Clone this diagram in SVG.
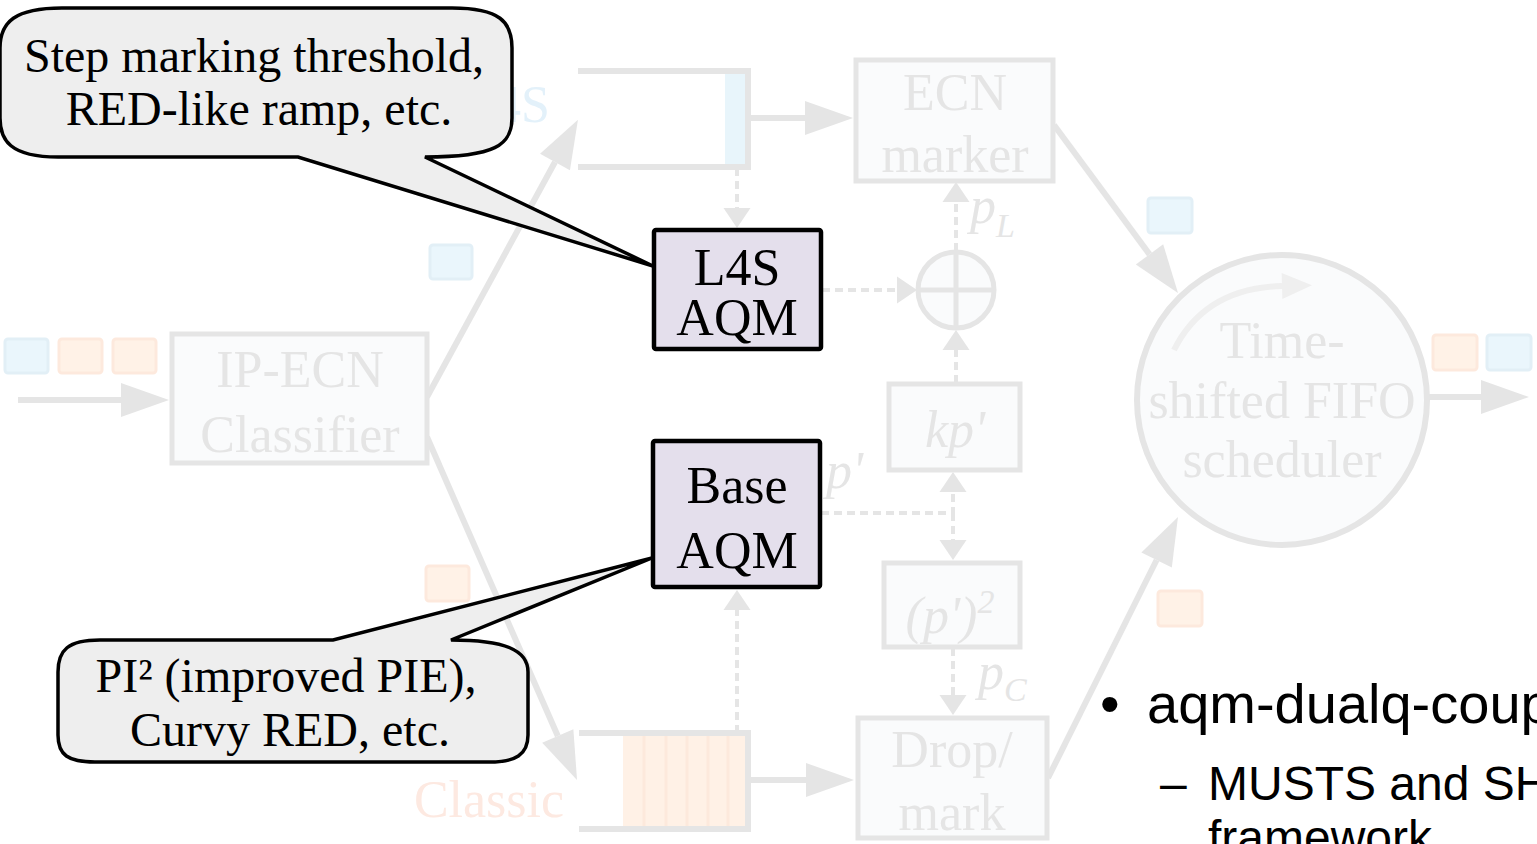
<svg xmlns="http://www.w3.org/2000/svg" width="1537" height="844" viewBox="0 0 1537 844">
<style>
.gbox{fill:#fafbfc;stroke:#e5e5e5;stroke-width:5}
.gt{fill:#e5e5e5;font-family:"Liberation Serif",serif;font-size:52px;text-anchor:middle}
.gi{fill:#e5e5e5;font-family:"Liberation Serif",serif;font-size:52px;font-style:italic}
.aqm{fill:#e4dfec;stroke:#000;stroke-width:4.5}
.bt{fill:#000;font-family:"Liberation Serif",serif;font-size:52px;text-anchor:middle}
.ct{fill:#000;font-family:"Liberation Serif",serif;font-size:48px;text-anchor:middle}
.callout{fill:#eeeeee;stroke:#000;stroke-width:3.5;stroke-linejoin:miter}
.sol{fill:none;stroke:#e5e5e5;stroke-width:6;marker-end:url(#ah)}
.dash{fill:none;stroke:#e5e5e5;stroke-width:4;stroke-dasharray:8 5;marker-end:url(#dh)}
.pb{fill:#eaf6fc;stroke:#e2eff6;stroke-width:3}
.po{fill:#fff2e7;stroke:#fde9dd;stroke-width:3}
.q{fill:none;stroke:#e5e5e5;stroke-width:6}
.st{fill:#000;font-family:"Liberation Sans",sans-serif}
</style>
<defs>
<marker id="ah" markerUnits="userSpaceOnUse" viewBox="0 -17 48 34" refX="0" refY="0" markerWidth="48" markerHeight="34" orient="auto" overflow="visible">
<path d="M0,-17 L48,0 L0,17 Z" fill="#e5e5e5"/>
</marker>
<marker id="dh" markerUnits="userSpaceOnUse" viewBox="0 -14 20 28" refX="0" refY="0" markerWidth="20" markerHeight="28" orient="auto" overflow="visible">
<path d="M0,-13.5 L20,0 L0,13.5 Z" fill="#e5e5e5"/>
</marker>
<marker id="ch" markerUnits="userSpaceOnUse" viewBox="0 -13 30 26" refX="0" refY="0" markerWidth="30" markerHeight="26" orient="auto" overflow="visible">
<path d="M0,-13 L30,0 L0,13 Z" fill="#efefef"/>
</marker>
</defs>

<!-- packets -->
<g id="packets">
<rect class="pb" x="5" y="339" width="43" height="34" rx="3"/>
<rect class="po" x="59" y="339" width="43" height="34" rx="3"/>
<rect class="po" x="113" y="339" width="43" height="34" rx="3"/>
<rect class="pb" x="430" y="245" width="42" height="34" rx="3"/>
<rect class="po" x="426" y="566" width="43" height="35" rx="3"/>
<rect class="pb" x="1148" y="198" width="44" height="35" rx="3"/>
<rect class="po" x="1158" y="591" width="44" height="35" rx="3"/>
<rect class="po" x="1433" y="335" width="44" height="35" rx="3"/>
<rect class="pb" x="1487" y="335" width="44" height="35" rx="3"/>
</g>

<!-- connectors -->
<g id="connectors">
<path class="sol" d="M18,400 H121"/>
<path class="sol" d="M427,397 L555,162"/>
<path class="sol" d="M427,437 L557.8,736"/>
<path class="sol" d="M748,118 H805"/>
<path class="sol" d="M1054,125 L1149.5,254.4"/>
<path class="sol" d="M748,780 H806"/>
<path class="sol" d="M1048,778 L1156.6,560"/>
<path class="sol" d="M1429,397 H1481"/>
<path class="dash" d="M737,168 V208"/>
<path class="dash" d="M822,290 H897"/>
<path class="dash" d="M956,251 V202"/>
<path class="dash" d="M956,383 V350"/>
<path class="dash" d="M821,513 H953 V492"/>
<path class="dash" d="M953,513 V540"/>
<path class="dash" d="M953,648 V695"/>
<path class="dash" d="M737,733 V610"/>
</g>

<!-- labels on connectors -->
<g id="conn-labels">
<text class="gi" x="970" y="223">p<tspan font-size="34" dy="14">L</tspan></text>
<text class="gi" x="826" y="488">p'</text>
<text class="gi" x="978" y="689">p<tspan font-size="34" dy="12">C</tspan></text>
</g>

<g id="classifier">
<rect class="gbox" x="172" y="334" width="255" height="129"/>
<text class="gt" x="300" y="387">IP-ECN</text>
<text class="gt" x="300" y="452">Classifier</text>
</g>

<g id="l4s-queue">
<text x="550" y="122" font-family="Liberation Serif, serif" font-size="52" fill="#e3f1fa" text-anchor="end">L4S</text>
<rect x="725" y="72" width="21" height="95" fill="#e8f5fb"/>
<path class="q" d="M578,71 H748 V167 H578"/>
</g>

<g id="classic-queue">
<text x="489" y="817" font-family="Liberation Serif, serif" font-size="52" fill="#fde9e1" text-anchor="middle">Classic</text>
<rect x="623" y="733" width="125" height="96" fill="#fff1e6"/>
<g stroke="#fde9dc" stroke-width="3">
<line x1="644" y1="734" x2="644" y2="828"/>
<line x1="666" y1="734" x2="666" y2="828"/>
<line x1="687" y1="734" x2="687" y2="828"/>
<line x1="708" y1="734" x2="708" y2="828"/>
<line x1="728" y1="734" x2="728" y2="828"/>
</g>
<path class="q" d="M579,733 H748 V829 H579"/>
</g>

<g id="ecn-marker">
<rect class="gbox" x="856" y="60" width="197" height="121"/>
<text class="gt" x="955" y="110">ECN</text>
<text class="gt" x="955" y="172">marker</text>
</g>

<g id="sum">
<circle cx="956" cy="290" r="38" fill="#fafbfc" stroke="#e5e5e5" stroke-width="5"/>
<line x1="956" y1="252" x2="956" y2="328" stroke="#e5e5e5" stroke-width="5"/>
<line x1="918" y1="290" x2="994" y2="290" stroke="#e5e5e5" stroke-width="5"/>
</g>

<g id="kp">
<rect class="gbox" x="889" y="384" width="131" height="86"/>
<text class="gi" x="955" y="447" text-anchor="middle">kp'</text>
</g>

<g id="psq">
<rect class="gbox" x="884" y="563" width="136" height="84"/>
<text class="gi" x="950" y="633" text-anchor="middle">(p')<tspan font-size="34" dy="-20">2</tspan></text>
</g>

<g id="drop-mark">
<rect class="gbox" x="858" y="718" width="189" height="120"/>
<text class="gt" x="952" y="767">Drop/</text>
<text class="gt" x="952" y="830">mark</text>
</g>

<g id="scheduler">
<circle cx="1282" cy="400" r="145" fill="#fafbfc" stroke="#e5e5e5" stroke-width="6"/>
<path d="M1174,350 Q1205,288 1282,286" fill="none" stroke="#efefef" stroke-width="6" marker-end="url(#ch)"/>
<text class="gt" x="1282" y="358">Time-</text>
<text class="gt" x="1282" y="418">shifted FIFO</text>
<text class="gt" x="1282" y="477">scheduler</text>
</g>

<g id="l4s-aqm">
<rect class="aqm" x="654" y="230" width="167" height="119" rx="2"/>
<text class="bt" x="737" y="285">L4S</text>
<text class="bt" x="737" y="335">AQM</text>
</g>

<g id="base-aqm">
<rect class="aqm" x="653" y="441" width="167" height="146" rx="2"/>
<text class="bt" x="737" y="503">Base</text>
<text class="bt" x="737" y="568">AQM</text>
</g>

<g id="callout-l4s">
<path class="callout" d="M62,8 L452,8 C500,8 512,22 512,48 L512,118 C512,145 495,157 425,157 L653,266 L298,157 L58,157 C10,157 0,140 0,118 L0,48 C0,22 15,8 62,8 Z"/>
<text class="ct" x="254" y="72">Step marking threshold,</text>
<text class="ct" x="259" y="125">RED-like ramp, etc.</text>
</g>

<g id="callout-base">
<path class="callout" d="M100,640 L333,640 L652,558 L451,640 C505,640 528,650 528,672 L528,735 C528,755 515,762 490,762 L95,762 C68,762 58,755 58,735 L58,672 C58,650 68,640 100,640 Z"/>
<text class="ct" x="286" y="692">PI² (improved PIE),</text>
<text class="ct" x="290" y="746">Curvy RED, etc.</text>
</g>

<g id="bullets">
<text class="st" x="1100" y="723" font-size="56">•</text>
<text class="st" x="1147" y="723" font-size="56">aqm-dualq-coup</text>
<text class="st" x="1160" y="800" font-size="48">–</text>
<text class="st" x="1208" y="800" font-size="48">MUSTS and SH</text>
<text class="st" x="1208" y="854" font-size="48">framework</text>
</g>
</svg>
